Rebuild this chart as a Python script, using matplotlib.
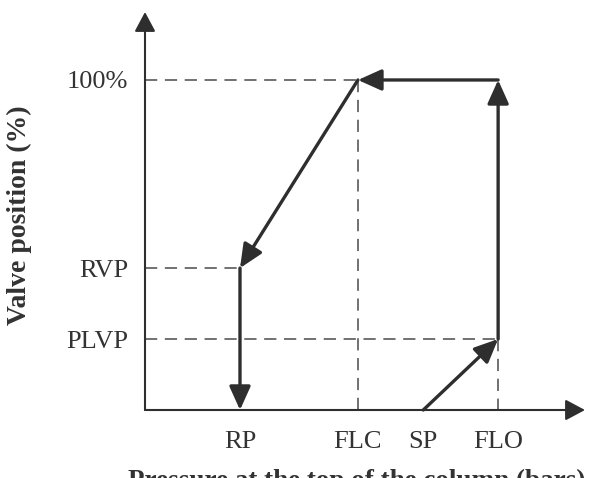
import matplotlib.pyplot as plt

plt.rcParams['font.family'] = ['Liberation Serif', 'DejaVu Serif']

# characteristic points (pressure in arbitrary units, valve in %)
x_names = ["RP", "FLC", "SP", "FLO"]
x_vals = [2.69, 6.03, 7.88, 10.0]
y_names = ["PLVP", "RVP", "100%"]
y_vals = [21.5, 43.0, 100.0]
RP, FLC, SP, FLO = x_vals
PLVP, RVP, FULL = y_vals

# operating path of the valve: SP -> FLO/PLVP -> FLO/100 -> FLC/100 -> RP/RVP -> RP/0
path_x = [SP, FLO, FLO, FLC, RP, RP]
path_y = [0.0, PLVP, FULL, FULL, RVP, 0.0]

X_END, Y_END = 12.46, 120.6
ink = "#2e2e2e"
dash_col = "#4a4a4a"

fig = plt.figure(figsize=(5.93, 4.78), dpi=100)
ax = fig.add_axes([145 / 593, 68 / 478, 440 / 593, 398 / 478])
ax.set_xlim(0, X_END)
ax.set_ylim(0, Y_END)
for s in ax.spines.values():
    s.set_visible(False)

# axes with arrow heads
ax_arrow = dict(arrowstyle="-|>,head_length=0.75,head_width=0.4", color=ink,
                lw=1.5, shrinkA=0, shrinkB=0, mutation_scale=16)
ax.annotate("", xy=(X_END, 0), xytext=(0, 0), arrowprops=ax_arrow, annotation_clip=False)
ax.annotate("", xy=(0, Y_END), xytext=(0, 0), arrowprops=ax_arrow, annotation_clip=False)

# dashed guide lines
dash = dict(color=dash_col, lw=1.1, ls=(0, (8, 5)), clip_on=False)
ax.plot([0, FLC], [FULL, FULL], **dash)
ax.plot([FLC, FLC], [FULL, 0], **dash)
ax.plot([0, RP], [RVP, RVP], **dash)
ax.plot([0, FLO], [PLVP, PLVP], **dash)
ax.plot([FLO, FLO], [PLVP, 0], **dash)

# path segments with arrow heads
seg_arrow = dict(arrowstyle="-|>,head_length=0.8,head_width=0.36", color=ink,
                 lw=2.4, shrinkA=0, shrinkB=0, mutation_scale=18)
for i in range(len(path_x) - 1):
    ax.annotate("", xy=(path_x[i + 1], path_y[i + 1]), xytext=(path_x[i], path_y[i]),
                arrowprops=seg_arrow, annotation_clip=False)

ax.set_xticks(x_vals, x_names)
ax.set_yticks(y_vals, y_names)
ax.tick_params(axis="both", length=0, labelsize=19, colors="#333333")
ax.tick_params(axis="x", pad=15)
ax.tick_params(axis="y", pad=12)

ax.set_xlabel("Pressure at the top of the column (bars)", fontsize=19.5,
              fontweight="bold", color="#333333")
ax.xaxis.set_label_coords(0.482, -0.148)
ax.set_ylabel("Valve position (%)", fontsize=20, fontweight="bold",
              color="#333333")
ax.yaxis.set_label_coords(-0.257, 0.49)

fig.savefig("out.png", dpi=100)
